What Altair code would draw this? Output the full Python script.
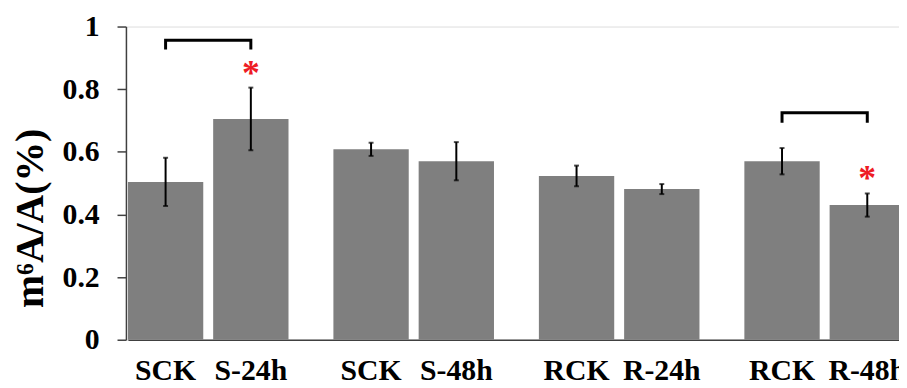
import altair as alt
import pandas as pd

# ---- data ----
groups = ["S24", "S24", "S48", "S48", "R24", "R24", "R48", "R48"]
slots = ["control", "treated"] * 4
labels = ["SCK", "S-24h", "SCK", "S-48h", "RCK", "R-24h", "RCK", "R-48h"]
means = [0.504, 0.705, 0.608, 0.570, 0.523, 0.481, 0.570, 0.430]
errors = [0.077, 0.100, 0.021, 0.061, 0.033, 0.016, 0.042, 0.037]
significant = [False, True, False, False, False, False, False, True]

group_order = ["S24", "S48", "R24", "R48"]
slot_order = ["control", "treated"]

bracket_groups = ["S24", "R48"]
bracket_tops = [0.956, 0.725]
bracket_bottoms = [0.927, 0.693]

y_ticks = [0, 0.2, 0.4, 0.6, 0.8, 1]

# ---- tables ----
bars = pd.DataFrame({
    "group": groups, "slot": slots, "label": labels,
    "mean": means, "err": errors, "sig": significant,
})
bars["lo"] = bars["mean"] - bars["err"]
bars["hi"] = bars["mean"] + bars["err"]

rows = []
for i, (g, t, b) in enumerate(zip(bracket_groups, bracket_tops, bracket_bottoms)):
    rows += [
        {"bracket": i, "order": 0, "group": g, "slot": "control", "y": b},
        {"bracket": i, "order": 1, "group": g, "slot": "control", "y": t},
        {"bracket": i, "order": 2, "group": g, "slot": "treated", "y": t},
        {"bracket": i, "order": 3, "group": g, "slot": "treated", "y": b},
    ]
brackets = pd.DataFrame(rows)

FONT = "Liberation Serif"
TITLE = "m⁶A/A(%)"

x_enc = alt.X(
    "group:N",
    sort=group_order,
    scale=alt.Scale(domain=group_order, range=[2, 786], paddingInner=0.2185, paddingOuter=0),
    axis=alt.Axis(labels=False, ticks=False, title=None, domain=True,
                  domainColor="#404040", domainWidth=1.5, grid=False),
)
xo_enc = alt.XOffset(
    "slot:N",
    scale=alt.Scale(domain=slot_order, paddingInner=0.1163, paddingOuter=0),
)
y_scale = alt.Scale(domain=[0, 1], nice=False, zero=True)
y_axis = alt.Axis(
    values=y_ticks, format=".1~f", title=TITLE,
    titleFont=FONT, titleFontSize=40, titleFontWeight="bold", titleColor="black",
    titlePadding=12, titleY=193,
    labelFont=FONT, labelFontSize=30, labelFontWeight="bold", labelColor="black",
    labelPadding=18, tickSize=9, tickColor="#404040", tickWidth=1.5,
    domainColor="#404040", domainWidth=1.5, grid=False,
)

bar_layer = alt.Chart(bars).mark_bar(color="#7f7f7f").encode(
    x=x_enc, xOffset=xo_enc,
    y=alt.Y("mean:Q", scale=y_scale, axis=y_axis, title=TITLE),
)

err_layer = alt.Chart(bars).mark_rule(color="black", strokeWidth=2).encode(
    x=x_enc, xOffset=xo_enc,
    y=alt.Y("lo:Q", scale=y_scale, title=TITLE),
    y2="hi:Q",
)
cap_lo = alt.Chart(bars).mark_tick(color="black", thickness=2, size=5).encode(
    x=x_enc, xOffset=xo_enc, y=alt.Y("lo:Q", scale=y_scale, title=TITLE),
)
cap_hi = alt.Chart(bars).mark_tick(color="black", thickness=2, size=5).encode(
    x=x_enc, xOffset=xo_enc, y=alt.Y("hi:Q", scale=y_scale, title=TITLE),
)

star_layer = alt.Chart(bars).transform_filter("datum.sig").mark_text(
    text="*", color="#ee1c25", font=FONT, fontSize=36, fontWeight="bold",
    baseline="alphabetic", dy=-3,
).encode(
    x=x_enc, xOffset=xo_enc, y=alt.Y("hi:Q", scale=y_scale, title=TITLE),
)

bracket_layer = alt.Chart(brackets).mark_line(color="black", strokeWidth=3).encode(
    x=x_enc, xOffset=xo_enc,
    y=alt.Y("y:Q", scale=y_scale, title=TITLE),
    detail="bracket:N", order="order:Q",
)

label_layer = alt.Chart(bars).mark_text(
    font=FONT, fontSize=30, fontWeight="bold", color="black", baseline="alphabetic",
).encode(
    x=x_enc, xOffset=xo_enc, y=alt.value(357), text="label:N",
)

chart = alt.layer(
    bar_layer, err_layer, cap_lo, cap_hi, star_layer, bracket_layer, label_layer
).properties(
    width=780, height=316,
    autosize=alt.AutoSizeParams(type="none"),
    padding={"left": 119, "top": 17, "right": 0, "bottom": 47},
).configure_view(stroke=None).configure(background="white")

chart.save("out.html", embed_options={"renderer": "svg", "actions": False})
